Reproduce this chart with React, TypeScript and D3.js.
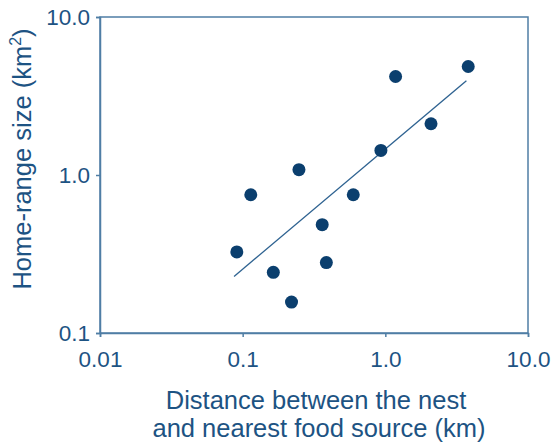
import { useEffect, useRef } from "react";
import * as d3 from "d3";

const WIDTH = 556;
const HEIGHT = 446;
const MARGIN = { top: 17, right: 28, bottom: 113, left: 100 };

// distance to food source (km) and home-range size (km²)
const distance = [0.091, 0.114, 0.164, 0.22, 0.248, 0.361, 0.386, 0.596, 0.931, 1.18, 2.09, 3.81];
const homeRange = [0.326, 0.75, 0.242, 0.157, 1.08, 0.485, 0.279, 0.75, 1.43, 4.2, 2.11, 4.86];

// fitted regression line end points
const fitX = [0.087, 3.7];
const fitY = [0.228, 3.95];

const xTicks = [0.01, 0.1, 1, 10];
const xTickLabels = ["0.01", "0.1", "1.0", "10.0"];
const yTicks = [0.1, 1, 10];
const yTickLabels = ["0.1", "1.0", "10.0"];

const TEXT_COLOR = "#1d5383";
const AXIS_COLOR = "#4f7ea5";
const DOT_COLOR = "#0b3f6e";
const FONT = "'Liberation Sans', Arial, sans-serif";

export default function App() {
  const ref = useRef<SVGSVGElement>(null);
  const boundsWidth = WIDTH - MARGIN.left - MARGIN.right;
  const boundsHeight = HEIGHT - MARGIN.top - MARGIN.bottom;

  useEffect(() => {
    const svg = d3.select(ref.current);
    svg.selectAll("*").remove();

    const x = d3.scaleLog().domain([0.01, 10]).range([0, boundsWidth]);
    const y = d3.scaleLog().domain([0.1, 10]).range([boundsHeight, 0]);

    const g = svg
      .append("g")
      .attr("transform", `translate(${MARGIN.left},${MARGIN.top})`);

    // frame
    g.append("rect")
      .attr("x", 0)
      .attr("y", 0)
      .attr("width", boundsWidth)
      .attr("height", boundsHeight)
      .attr("fill", "none")
      .attr("stroke", AXIS_COLOR)
      .attr("stroke-width", 1.5);

    const xAxis = g
      .append("g")
      .attr("transform", `translate(0,${boundsHeight})`)
      .call(
        d3
          .axisBottom(x)
          .tickValues(xTicks)
          .tickFormat((_, i) => xTickLabels[i])
          .tickSizeOuter(0)
          .tickSize(4)
          .tickPadding(14)
      );
    const yAxis = g.append("g").call(
      d3
        .axisLeft(y)
        .tickValues(yTicks)
        .tickFormat((_, i) => yTickLabels[i])
        .tickSizeOuter(0)
        .tickSize(4)
        .tickPadding(6)
    );
    [xAxis, yAxis].forEach((a) => {
      a.select(".domain").attr("stroke", AXIS_COLOR).attr("stroke-width", 1.5);
      a.selectAll(".tick line").attr("stroke", AXIS_COLOR).attr("stroke-width", 1.5);
      a.selectAll(".tick text")
        .attr("fill", TEXT_COLOR)
        .style("font-family", FONT)
        .style("font-size", "22.5px");
    });

    // regression line
    const line = d3
      .line<number>()
      .x((d) => x(d))
      .y((_, i) => y(fitY[i]));
    g.append("path")
      .datum(fitX)
      .attr("d", line)
      .attr("fill", "none")
      .attr("stroke", "#2f6391")
      .attr("stroke-width", 1.3);

    g.selectAll("circle")
      .data(distance)
      .join("circle")
      .attr("cx", (d) => x(d))
      .attr("cy", (_, i) => y(homeRange[i]))
      .attr("r", 6.5)
      .attr("fill", DOT_COLOR);

    // y title
    const yTitle = svg
      .append("text")
      .attr("transform", `translate(31,${MARGIN.top + 142}) rotate(-90)`)
      .attr("text-anchor", "middle")
      .attr("fill", TEXT_COLOR)
      .style("font-family", FONT)
      .style("font-size", "25.5px");
    yTitle.append("tspan").text("Home-range size (km");
    yTitle.append("tspan").attr("dy", -10).style("font-size", "16px").text("2");
    yTitle.append("tspan").attr("dy", 10).text(")");

    // x title
    const xTitle = svg
      .append("text")
      .attr("text-anchor", "middle")
      .attr("fill", TEXT_COLOR)
      .style("font-family", FONT)
      .style("font-size", "25.5px");
    xTitle.append("tspan").attr("x", 316).attr("y", 409).text("Distance between the nest");
    xTitle.append("tspan").attr("x", 319).attr("y", 437).text("and nearest food source (km)");
  }, [boundsWidth, boundsHeight]);

  return (
    <svg
      ref={ref}
      width={WIDTH}
      height={HEIGHT}
      style={{ position: "absolute", left: 0, top: 0, background: "#fff" }}
    />
  );
}
